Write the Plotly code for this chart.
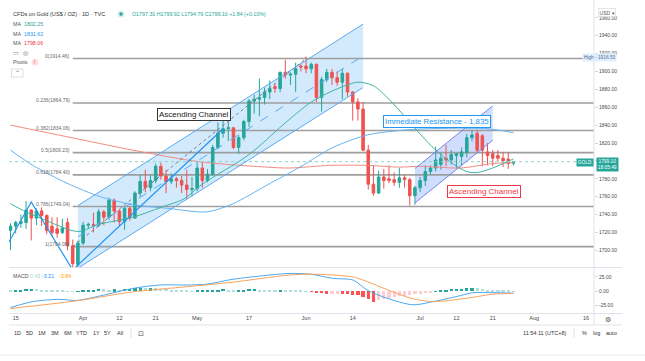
import plotly.graph_objects as go
import pandas as pd

W, H = 645, 361

# ---------------- data ----------------
first_day, last_day = "2021-03-12", "2021-07-27"
opens = [1722, 1727, 1730, 1731, 1745, 1736, 1744, 1739, 1727, 1724, 1720, 1731, 1705, 1684,
         1708, 1728, 1729, 1728, 1743, 1737, 1756, 1744, 1732, 1747, 1736, 1764, 1777, 1770,
         1778, 1794, 1783, 1777, 1780, 1778, 1773, 1768, 1769, 1792, 1778, 1785, 1815, 1831,
         1836, 1837, 1815, 1826, 1844, 1867, 1869, 1871, 1877, 1883, 1881, 1899, 1896, 1897,
         1906, 1906, 1903, 1908, 1871, 1891, 1899, 1893, 1888, 1898, 1877, 1866, 1858, 1812,
         1774, 1764, 1782, 1780, 1779, 1776, 1781, 1779, 1761, 1770, 1778, 1788, 1792, 1796,
         1803, 1801, 1806, 1805, 1809, 1826, 1831, 1828, 1810, 1808, 1806, 1803, 1802, 1797.31]
highs = [1730, 1733, 1740, 1755, 1746, 1747, 1748, 1740, 1737, 1737, 1735, 1736, 1712, 1711,
         1732, 1731, 1742, 1746, 1745, 1759, 1758, 1746, 1749, 1749, 1766, 1784, 1790, 1784,
         1797, 1798, 1790, 1786, 1782, 1783, 1790, 1782, 1799, 1799, 1791, 1818, 1843, 1845,
         1844, 1838, 1829, 1846, 1869, 1874, 1892, 1882, 1890, 1886, 1900, 1913, 1899, 1910,
         1909, 1916.53, 1910, 1909, 1894, 1903, 1903, 1900, 1903, 1899, 1878, 1870, 1866, 1818,
         1795, 1789, 1791, 1795, 1787, 1792, 1785, 1781, 1772, 1782, 1795, 1795, 1816, 1809,
         1818, 1812, 1809, 1815, 1830, 1834, 1834, 1830, 1820, 1812, 1812, 1810, 1810, 1799.92]
lows = [1700, 1719, 1725, 1724, 1711, 1728, 1727, 1718, 1716, 1714, 1718, 1700, 1677, 1677,
        1706, 1724, 1720, 1726, 1728, 1734, 1731, 1727, 1723, 1733, 1735, 1760, 1765, 1766,
        1775, 1779, 1764, 1774, 1770, 1764, 1757, 1760, 1766, 1770, 1776, 1783, 1813, 1826,
        1822, 1813, 1808, 1823, 1838, 1853, 1850, 1863, 1869, 1876, 1877, 1892, 1885, 1877,
        1900, 1898, 1898, 1866, 1855, 1888, 1885, 1884, 1869, 1872, 1845, 1845, 1811, 1768,
        1761, 1763, 1769, 1775, 1772, 1770, 1770, 1750, 1751, 1765, 1772, 1785, 1788, 1790,
        1794, 1796, 1792, 1795, 1804, 1822, 1810, 1794, 1795, 1794, 1799, 1793, 1791, 1794.79]
closes = [1727, 1731, 1732, 1745, 1736, 1744, 1739, 1722, 1720, 1719, 1725, 1705, 1685, 1708,
          1728, 1729, 1728, 1743, 1737, 1756, 1744, 1732, 1747, 1736, 1764, 1777, 1770, 1778,
          1794, 1783, 1777, 1780, 1778, 1773, 1768, 1769, 1792, 1778, 1785, 1815, 1831, 1836,
          1837, 1815, 1826, 1844, 1867, 1869, 1871, 1877, 1881, 1881, 1899, 1896, 1897, 1903,
          1905, 1903, 1908, 1871, 1891, 1899, 1893, 1888, 1898, 1877, 1866, 1858, 1812, 1774,
          1764, 1782, 1778, 1778, 1776, 1781, 1779, 1761, 1770, 1778, 1788, 1792, 1801, 1803,
          1801, 1807, 1808, 1810, 1826, 1829, 1812, 1812, 1806, 1803, 1803, 1800, 1797, 1799.10]
macd_hist = [1.5, 2, 3, 4, 4.5, 4, 3, 2.5, 2, 1.5, 1, 0.5, 0.3, 0.5, 1.5, 2.5, 3, 3.5, 3.2, 3,
             3.4, 3, 4, 4.5, 5, 5.5, 5.5, 6, 5.5, 4.5, 3.5, 3, 2, 1.5, 1, 0.5, 0.8, 1, 1.5, 2.5,
             3, 3.5, 2.5, 2, 2.5, 3, 3.5, 4, 3, 2.5, 2, 1.8, 2.5, 2, 1.5, 1.2, 1, 0.5, -0.5, -2.5,
             -3.5, -4, -4, -4, -4.5, -5, -6, -7, -10, -14, -18, -16, -14, -12, -10, -9, -8, -6.5,
             -5, -4, -3, -2, 0.5, 1.5, 2.5, 3.5, 4, 4.5, 5.5, 6.5, 5.5, 4, 3, 2, 1.5, 1, 0.7, 0.43]

# moving averages / MACD lines read at sample bars (bar 0 = first candle)
ma_fast_bar = [0, 3, 7, 13, 17, 23.6, 30, 33.3, 37, 46, 52.5, 57.8, 62, 67, 70, 73, 76, 79, 82, 85, 88, 90, 93, 97]
ma_fast_val = [1752, 1743, 1733, 1721, 1729, 1737, 1750, 1757, 1774, 1807, 1840, 1865, 1878, 1888, 1884,
               1869, 1850, 1830, 1812, 1798, 1788, 1787, 1792, 1802.25]
ma_mid_bar = [0, 4.3, 10.9, 17.3, 23.6, 30.2, 37.9, 42.9, 49.5, 55.8, 62.2, 68.8, 77.1, 85.3, 91.9, 97]
ma_mid_val = [1812, 1795, 1775, 1760, 1751, 1747, 1743, 1752, 1773, 1793, 1815, 1829, 1835, 1836.5, 1836, 1831.62]
ma_slow_bar = [0, 10.9, 23.6, 36.5, 49.5, 53.9, 61.6, 68.8, 75.1, 79, 86.7, 93, 97]
ma_slow_val = [1840, 1827, 1812, 1799, 1793, 1792, 1795, 1795, 1793, 1794, 1792, 1797, 1798.06]
macd_bar = [0, 4.3, 9.5, 12.8, 17.3, 23.6, 28.8, 34, 37.9, 42.9, 49.5, 53.3, 55.8, 57.8, 62.2, 66.1,
            68.8, 72.6, 77.6, 81.5, 86.1, 89.2, 93, 97]
macd_val = [-28.5, -18, -14, -16, -8, 5, 11, 11, 12.6, 21, 28, 31, 31, 30, 22.6, 19.5, 2, -12, -23.6,
            -18, -9, -2.4, -2.4, -3.21]
signal_bar = [0, 12.8, 23.6, 34, 42.9, 53.3, 57.8, 62.2, 66.1, 68.8, 72.6, 77.6, 81.5, 86.1, 89.2, 93, 97]
signal_val = [-30, -16.5, -1, 8, 16, 28, 30, 28.5, 25, 17, 3, -13, -18, -14.5, -10.5, -5, -3.84]

fib_ratios = ["0", "0.236", "0.382", "0.5", "0.618", "0.786", "1"]
fib_levels = [1914.46, 1864.79, 1834.06, 1809.23, 1784.40, 1749.04, 1704.08]
fib_start = "2021-03-30"
fib_trend_dates = ["2021-03-30", "2021-06-01"]
fib_trend_prices = [1704.08, 1914.46]

channel1_dates = ["2021-03-31", "2021-06-16"]
channel1_upper = [1750, 1953]
channel1_lower = [1680, 1882]
channel2_dates = ["2021-06-30", "2021-07-21"]
channel2_upper = [1791.5, 1861.5]
channel2_lower = [1753, 1823]
zigzag_dates = ["2021-03-11", "2021-03-18", "2021-03-30", "2021-05-10"]
zigzag_prices = [1702, 1754, 1678, 1836]

last_price = 1799.10
tick_dates = ["2021-03-15", "2021-04-01", "2021-04-12", "2021-04-21", "2021-05-03", "2021-05-17",
              "2021-06-01", "2021-06-14", "2021-07-01", "2021-07-12", "2021-07-21", "2021-08-02", "2021-08-16"]
tick_labels = ["15", "Apr", "12", "21", "May", "17", "Jun", "14", "Jul", "12", "21", "Aug", "16"]
price_ticks = [1700, 1720, 1740, 1760, 1780, 1800, 1820, 1840, 1860, 1880, 1900, 1920, 1940, 1960]
macd_ticks = [-25, 0, 25]

# ---------------- helpers ----------------
cal = pd.bdate_range("2021-03-01", "2021-09-30")
origin = cal.get_loc(pd.Timestamp(first_day))


def bar_of(d):
    return cal.get_loc(pd.Timestamp(d)) - origin


bars = list(range(bar_of(last_day) + 1))
X0, X1 = 9, 594  # plot area pixel edges
BAR_PX, BAR0_PX = 5.185, 10.5
xr = [(X0 - BAR0_PX) / BAR_PX, (X1 - BAR0_PX) / BAR_PX]

UP, DN = "#26a69a", "#ef5350"

fig = go.Figure()

# candles
fig.add_trace(go.Candlestick(
    x=bars, open=opens, high=highs, low=lows, close=closes,
    increasing=dict(line=dict(color=UP, width=1), fillcolor=UP),
    decreasing=dict(line=dict(color=DN, width=1), fillcolor=DN),
    whiskerwidth=0, hoverinfo="skip", xaxis="x", yaxis="y"))


def line(xs, ys, color, width=1, dash="solid", shape="linear", yaxis="y"):
    fig.add_trace(go.Scatter(x=xs, y=ys, mode="lines", hoverinfo="skip",
                             line=dict(color=color, width=width, dash=dash, shape=shape,
                                       smoothing=0.8),
                             xaxis="x", yaxis=yaxis))


# moving averages
line(ma_slow_bar, ma_slow_val, "#f28b82", 1, shape="spline")
line(ma_mid_bar, ma_mid_val, "#64b5f6", 1, shape="spline")
line(ma_fast_bar, ma_fast_val, "#3fb5a3", 1, shape="spline")
# last price line
line([xr[0], xr[1]], [last_price, last_price], "#8fd3c8", 1, dash="dot")

# channel 1 edges & midline
c1x = [bar_of(d) for d in channel1_dates]
line(c1x, channel1_upper, "#5aaaf0", 1)
line(c1x, channel1_lower, "#5aaaf0", 1)
line(c1x, [(u + l) / 2 for u, l in zip(channel1_upper, channel1_lower)], "#5aaaf0", 1, dash="dash")
# channel 2 edges
c2x = [bar_of(d) for d in channel2_dates]
line(c2x, channel2_upper, "#7088ee", 1)
line(c2x, channel2_lower, "#7088ee", 1)
# fib trend line and zigzag
line([bar_of(d) for d in fib_trend_dates], fib_trend_prices, "#787b86", 1, dash="dot")
line([bar_of(d) for d in zigzag_dates], zigzag_prices, "#2196f3", 1.2)

# MACD pane
hist_colors = []
for k, v in enumerate(macd_hist):
    prev = macd_hist[k - 1] if k else v
    if v >= 0:
        hist_colors.append("#26a69a" if v > prev else "#b2dfdb")
    else:
        hist_colors.append("#ff5252" if v < prev else "#ffcdd2")
fig.add_trace(go.Bar(x=bars, y=macd_hist, marker=dict(color=hist_colors, line=dict(width=0)),
                     width=0.62, hoverinfo="skip", xaxis="x", yaxis="y2"))
line(macd_bar, macd_val, "#4aa8f0", 1, shape="spline", yaxis="y2")
line(signal_bar, signal_val, "#f7a35c", 1, shape="spline", yaxis="y2")

# ---------------- shapes ----------------
shapes = []


def path(xs, top, bottom):
    return (f"M {xs[0]},{top[0]} L {xs[1]},{top[1]} L {xs[1]},{bottom[1]} "
            f"L {xs[0]},{bottom[0]} Z")


shapes.append(dict(type="path", xref="x", yref="y", layer="below",
                   path=path(c1x, channel1_upper, channel1_lower),
                   fillcolor="rgba(33,150,243,0.2)", line=dict(width=0)))
shapes.append(dict(type="path", xref="x", yref="y", layer="below",
                   path=path(c2x, channel2_upper, channel2_lower),
                   fillcolor="rgba(41,98,255,0.22)", line=dict(width=0)))
fx = bar_of(fib_start)
for lv in fib_levels:
    shapes.append(dict(type="line", xref="x", yref="y", layer="below", x0=fx, x1=xr[1],
                       y0=lv, y1=lv, line=dict(color="#9e9e9e", width=1.6)))


def px(x):
    return x / W


def py(y):
    return 1 - y / H


def hline(y, x0, x1, color="#e0e3eb", width=1):
    shapes.append(dict(type="line", xref="paper", yref="paper", x0=px(x0), x1=px(x1),
                       y0=py(y), y1=py(y), line=dict(color=color, width=width)))


def vline(x, y0, y1, color="#e0e3eb", width=1):
    shapes.append(dict(type="line", xref="paper", yref="paper", x0=px(x), x1=px(x),
                       y0=py(y0), y1=py(y1), line=dict(color=color, width=width)))


hline(267.5, 9, 622)
hline(313.5, 9, 622)
hline(325, 9, 622)
hline(355, 0, 645, "#e6e6e6")
vline(594, 0, 325)
vline(131, 328, 338)
vline(574, 328, 338)
# legend dot
shapes.append(dict(type="circle", xref="paper", yref="paper", x0=px(117.5), x1=px(124.5),
                   y0=py(17.5), y1=py(10.5), fillcolor="#d6f0ec", line=dict(width=0)))
shapes.append(dict(type="circle", xref="paper", yref="paper", x0=px(119.3), x1=px(122.7),
                   y0=py(15.7), y1=py(12.3), fillcolor="#26a69a", line=dict(width=0)))
# pivots warning icon
shapes.append(dict(type="circle", xref="paper", yref="paper", x0=px(31.5), x1=px(38.5),
                   y0=py(65.8), y1=py(58.8), fillcolor="#fde0e0", line=dict(width=0)))
# collapse button
shapes.append(dict(type="rect", xref="paper", yref="paper", x0=px(11.5), x1=px(23),
                   y0=py(77), y1=py(69), line=dict(color="#d5d5d5", width=0.8), fillcolor="white"))

# ---------------- annotations ----------------
ann = []
FONT = "Liberation Sans, Arial, sans-serif"


def text(x, y, s, size=5.5, color="#555", xanchor="left", **kw):
    ann.append(dict(xref="paper", yref="paper", x=px(x), y=py(y), text=s, showarrow=False,
                    xanchor=xanchor, yanchor="middle", font=dict(size=size, color=color, family=FONT), **kw))


text(11, 14, "CFDs on Gold (US$ / OZ) · 1D · TVC", 5.6, "#333")
text(130, 14, "O1797.31 H1799.92 L1794.79 C1799.10 +1.84 (+0.10%)", 5.3, "#26a69a")
text(11, 24, "MA", 5.3, "#555")
text(21.5, 24, "1802.25", 5.3, "#26a69a")
text(11, 33.5, "MA", 5.3, "#555")
text(21.5, 33.5, "1831.62", 5.3, "#2196f3")
text(11, 43.3, "MA", 5.3, "#555")
text(21.5, 43.3, "1798.06", 5.3, "#f23645")
text(11, 52.8, "▭", 5.5, "#888")
text(21, 52.8, "◎", 6, "#666")
text(11, 62.3, "Pivots", 5.3, "#555")
text(35, 62.3, "!", 5.5, "#f23645", xanchor="center")
text(17.3, 73.3, "⌃", 6, "#666", xanchor="center")
text(11, 275.5, "MACD", 5.3, "#555")
text(27.5, 275.5, "0.43", 5.3, "#9fd8cf")
text(40, 275.5, "-3.21", 5.3, "#2196f3")
text(56.5, 275.5, "-3.84", 5.3, "#ff9800")

for x, s in zip([17.3, 29.3, 41.7, 55, 67.7, 81.7, 96, 107.7, 120],
                ["1D", "5D", "1M", "3M", "6M", "YTD", "1Y", "5Y", "All"]):
    text(x, 333, s, 5.5, "#333", xanchor="center")
text(141, 333, "⊡", 7, "#555", xanchor="center")
text(545, 333, "11:54:11 (UTC+8)", 5.5, "#333", xanchor="center")
text(584, 333, "%", 5.5, "#333", xanchor="center")
text(596.7, 333, "log", 5.5, "#333", xanchor="center")
text(611.7, 333, "auto", 5.5, "#333", xanchor="center")
text(608, 319, "⚙", 7, "#555", xanchor="center")
text(607, 13, "USD ▾", 5, "#555", xanchor="center", bgcolor="white",
     bordercolor="#d5d5d5", borderwidth=0.6, borderpad=1)
text(599, 57.3, "High - 1916.53", 4.8, "#4d6e93", xanchor="center", bgcolor="#e1eefc", borderpad=0.8)
text(585, 162.2, "GOLD", 4.8, "white", xanchor="center", bgcolor="#26a69a", borderpad=0.8)
text(607.5, 164.5, "1799.10<br>18:05:49", 4.8, "white", xanchor="center", bgcolor="#26a69a", borderpad=0.8)

# fib labels
for r, lv in zip(fib_ratios, fib_levels):
    ann.append(dict(xref="x", yref="y", x=fx, y=lv, text=f"{r}({lv:.2f})", showarrow=False,
                    xanchor="right", yanchor="middle", xshift=-1, yshift=2.5,
                    font=dict(size=5, color="#6b6b6b", family=FONT)))

# chart labels (data coordinates)
ann.append(dict(xref="x", yref="y", x=35.3, y=1852.2, text="Ascending Channel", showarrow=False,
                font=dict(size=8, color="#222", family=FONT), bgcolor="white",
                bordercolor="#333", borderwidth=1, borderpad=1))
ann.append(dict(xref="x", yref="y", x=82.2, y=1843.8, text="Immediate Resistance - 1,835", showarrow=False,
                font=dict(size=7.8, color="#2196f3", family=FONT), bgcolor="white",
                bordercolor="#2196f3", borderwidth=1, borderpad=1))
ann.append(dict(xref="x", yref="y", x=91.4, y=1766, text="Ascending Channel", showarrow=False,
                font=dict(size=8, color="#f23645", family=FONT), bgcolor="white",
                bordercolor="#f23645", borderwidth=1, borderpad=1))

fig.update_layout(
    width=W, height=H, margin=dict(l=0, r=0, t=0, b=0),
    paper_bgcolor="white", plot_bgcolor="white", showlegend=False, hovermode=False,
    shapes=shapes, annotations=ann, bargap=0,
    xaxis=dict(domain=[px(X0), px(X1)], range=xr, anchor="y2",
               tickvals=[bar_of(d) for d in tick_dates], ticktext=tick_labels,
               showgrid=False, zeroline=False, showline=False, ticks="",
               tickfont=dict(size=5.5, color="#4a4a4a", family=FONT),
               rangeslider=dict(visible=False)),
    yaxis=dict(domain=[py(267), py(3)], range=[1681.3, 1976.6], side="right", anchor="x",
               tickvals=price_ticks, ticktext=[f"{v:.2f}" for v in price_ticks],
               showgrid=False, zeroline=False, showline=False, ticks="outside", ticklen=3,
               tickcolor="#d5d8de", tickfont=dict(size=5, color="#4a4a4a", family=FONT)),
    yaxis2=dict(domain=[py(313), py(268)], range=[-37.9, 40.7], side="right", anchor="x",
                tickvals=macd_ticks, ticktext=[f"{v:.2f}" for v in macd_ticks],
                showgrid=False, zeroline=False, showline=False, ticks="outside", ticklen=3,
                tickcolor="#d5d8de", tickfont=dict(size=5, color="#4a4a4a", family=FONT)),
)

fig.write_html("out.html", config={"displayModeBar": False},
               post_script="document.body.style.margin='0';")
